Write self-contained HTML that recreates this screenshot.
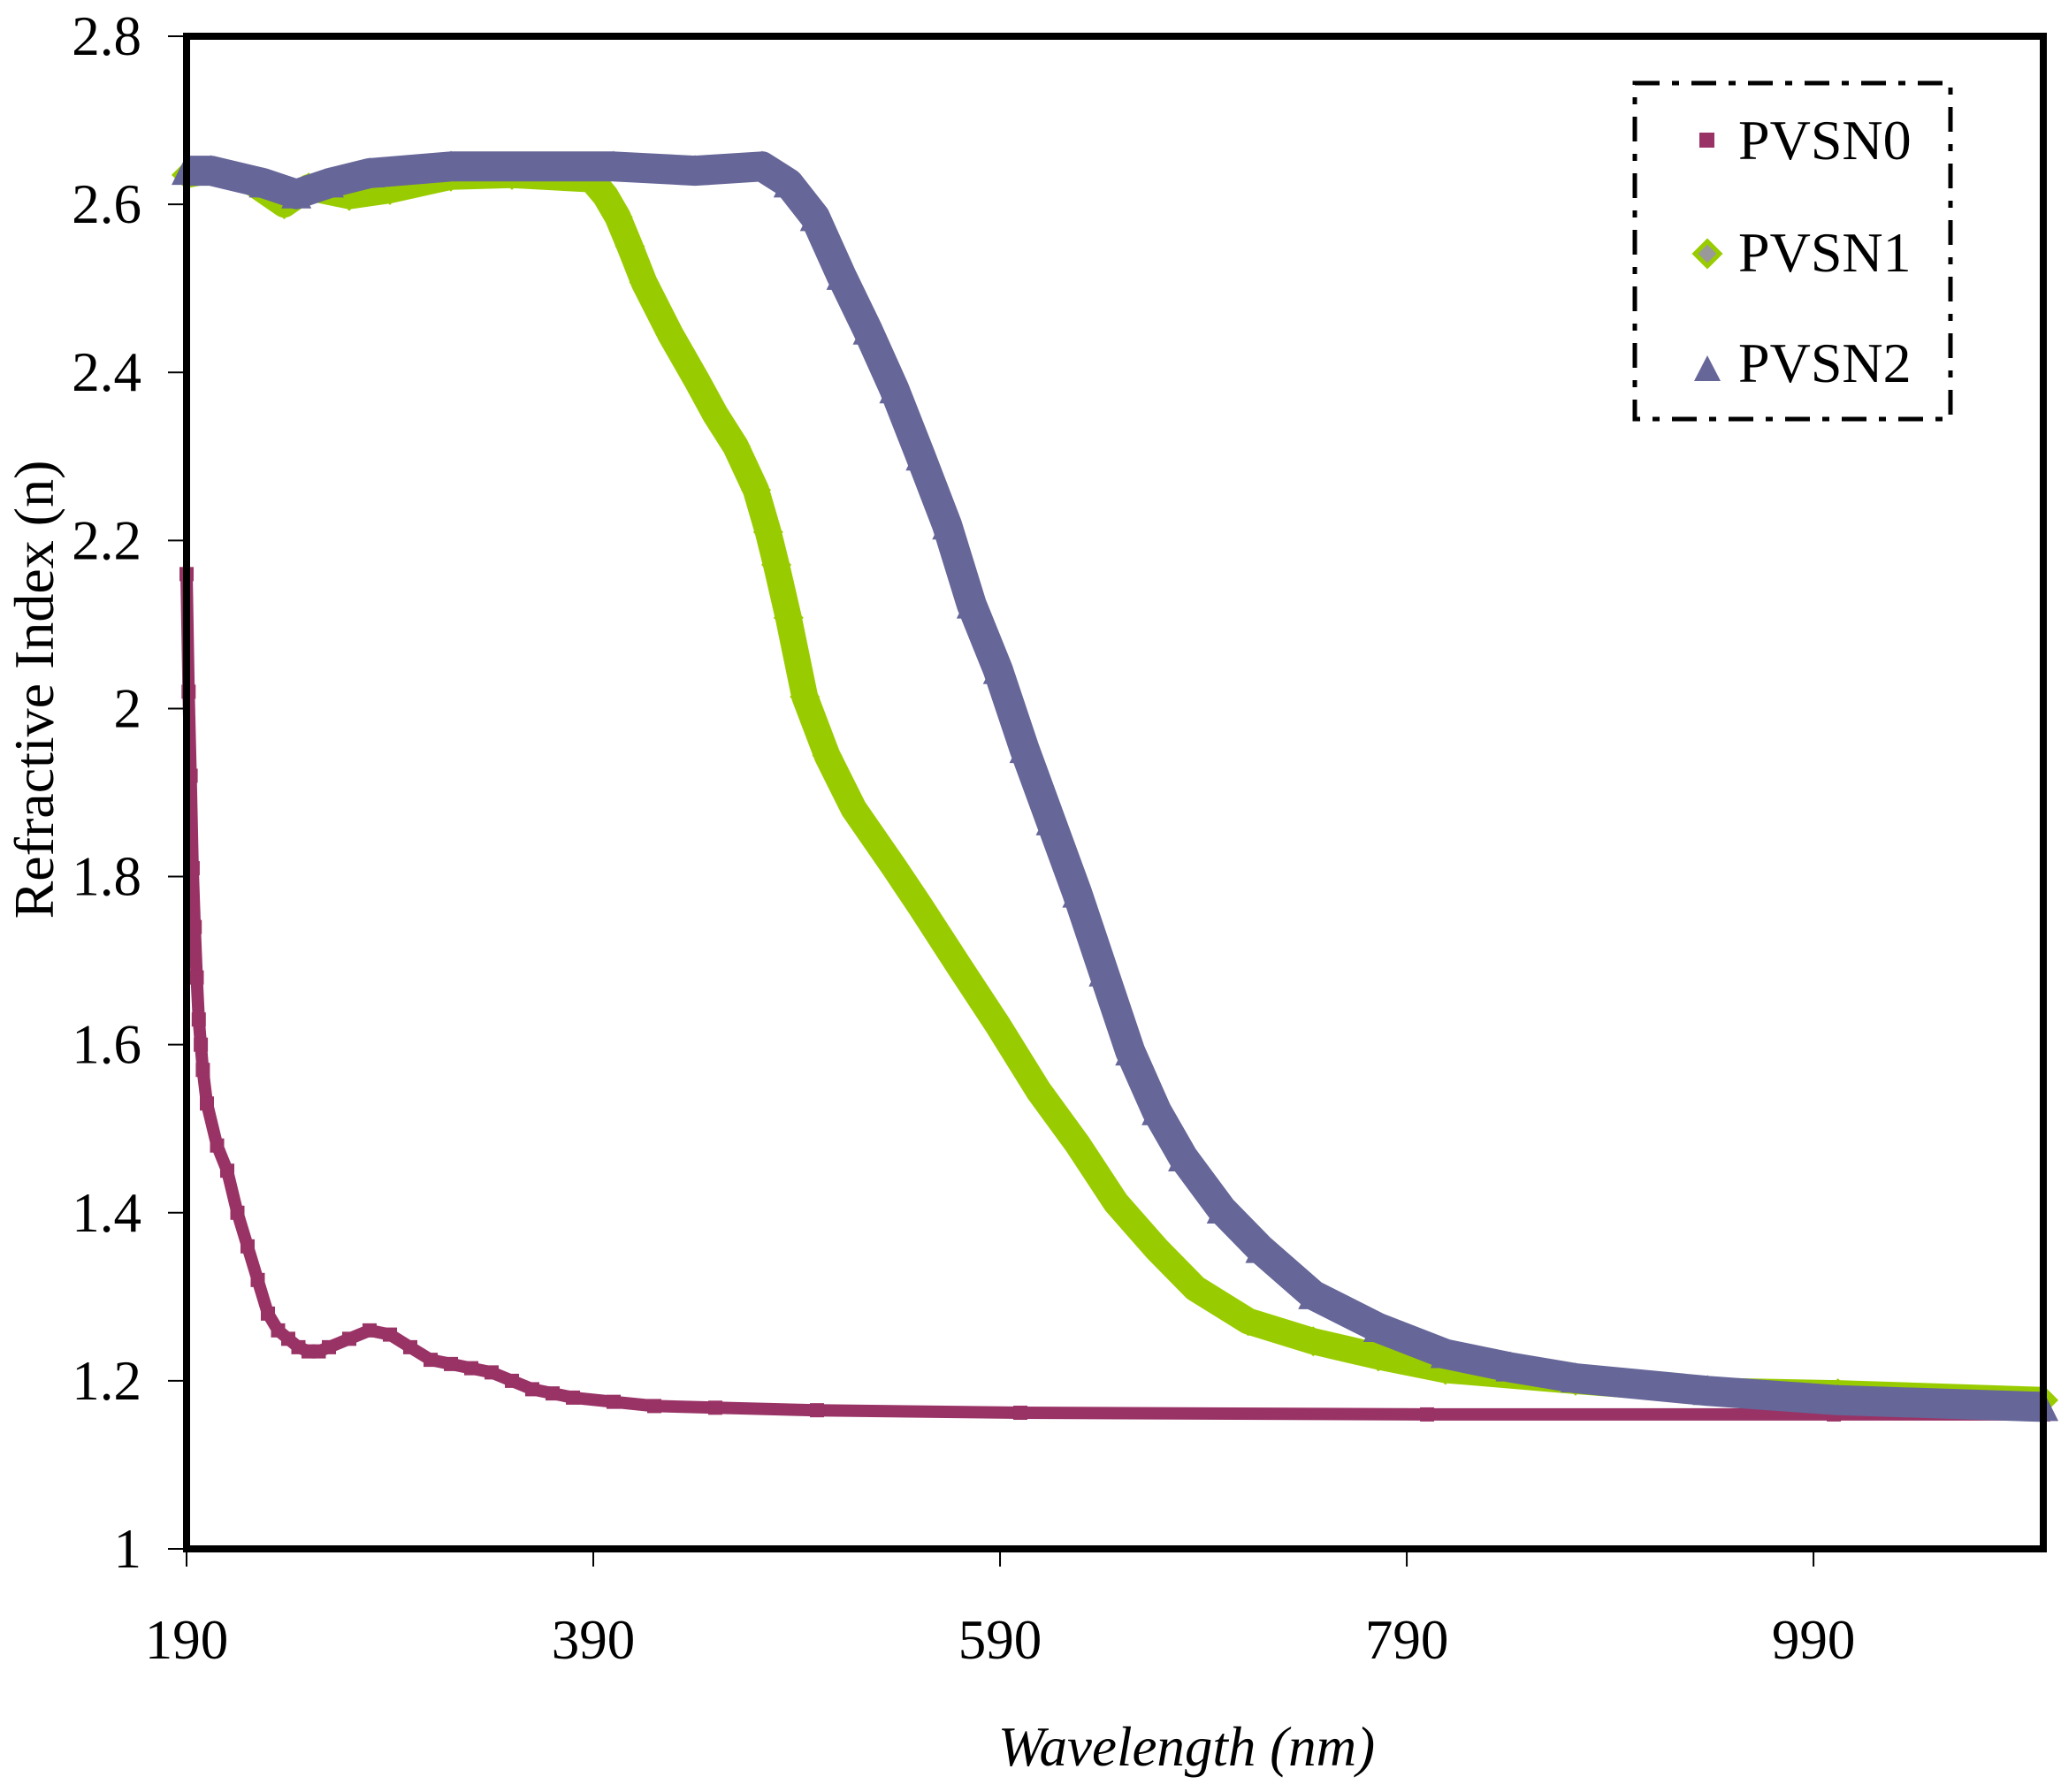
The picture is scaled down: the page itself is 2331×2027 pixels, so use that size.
<!DOCTYPE html>
<html><head><meta charset="utf-8"><style>
html,body{margin:0;padding:0;background:#fff;}
svg{display:block;}
text{font-family:"Liberation Serif",serif;fill:#000;}
</style></head><body>
<svg id="chart" width="2331" height="2027" viewBox="0 0 2331 2027" xmlns="http://www.w3.org/2000/svg">
<g id="series"></g>
<rect x="211" y="41" width="2100" height="1711" fill="none" stroke="#000" stroke-width="8"/>
<g id="axes"></g>
<text transform="translate(60,780) rotate(-90)" text-anchor="middle" font-size="64">Refractive Index (n)</text>
<text x="1342" y="1997" text-anchor="middle" font-size="63" font-style="italic">Wavelength (nm)</text>
<g>
<rect x="1849" y="94" width="357" height="380" fill="#fff" stroke="#000" stroke-width="5" stroke-dasharray="28,14,8,14"/>
<rect x="1922" y="150" width="17" height="17" fill="#993366"/>
<text x="1966" y="180" font-size="64">PVSN0</text>
<polygon points="1931,273 1945,287 1931,301 1917,287" fill="#999" stroke="#99cc00" stroke-width="5"/>
<text x="1966" y="307" font-size="64">PVSN1</text>
<polygon points="1931,402 1946,431 1916,431" fill="#666699"/>
<text x="1966" y="432" font-size="64">PVSN2</text>
</g>
</svg>
<script>
const xTicks = [190, 390, 590, 790, 990];
const yTicks = [1, 1.2, 1.4, 1.6, 1.8, 2, 2.2, 2.4, 2.6, 2.8];
const pvsn0X = [190,191,192,193,194,195,196,197,198,200,205,210,215,220,225,230,235,240,245,250,255,260,270,280,290,300,310,320,330,340,350,360,370,380,400,420,450,500,600,800,1000,1103];
const pvsn0Y = [2.16,2.02,1.92,1.81,1.74,1.68,1.63,1.6,1.57,1.53,1.48,1.45,1.4,1.36,1.32,1.28,1.26,1.25,1.24,1.235,1.235,1.24,1.25,1.26,1.255,1.24,1.225,1.22,1.215,1.21,1.2,1.19,1.185,1.18,1.175,1.17,1.168,1.165,1.162,1.16,1.16,1.16];
const pvsn1X = [190,200,220,238,250,270,290,320,350,389,396,402,408,415,428,441,450,460,470,476,480,486,494,505,518,538,551,570,589,609,628,647,667,686,712,744,776,809,873,938,1002,1103];
const pvsn1Y = [2.635,2.64,2.63,2.6,2.62,2.61,2.617,2.633,2.635,2.63,2.61,2.585,2.55,2.507,2.445,2.39,2.35,2.312,2.26,2.21,2.171,2.108,2.014,1.944,1.881,1.811,1.764,1.693,1.623,1.545,1.482,1.412,1.357,1.31,1.271,1.247,1.229,1.213,1.2,1.188,1.185,1.177];
const pvsn2X = [190,202,228,244,260,280,320,400,440,473,486,499,512,525,538,551,564,576,589,602,615,628,641,654,667,680,699,718,744,776,809,841,873,938,1002,1103];
const pvsn2Y = [2.64,2.64,2.625,2.612,2.625,2.637,2.645,2.645,2.64,2.645,2.625,2.585,2.515,2.45,2.38,2.3,2.218,2.124,2.046,1.952,1.866,1.78,1.686,1.592,1.521,1.466,1.404,1.357,1.302,1.263,1.232,1.216,1.203,1.188,1.177,1.169];

const NS = 'http://www.w3.org/2000/svg';
const X0 = 211, X1 = 2311, Y0 = 1752, Y1 = 41, XMIN = 190, XMAX = 1103, YMIN = 1, YMAX = 2.8;
function xs(v){ return X0 + (v - XMIN) / (XMAX - XMIN) * (X1 - X0); }
function ys(v){ return Y0 - (v - YMIN) / (YMAX - YMIN) * (Y0 - Y1); }
function mk(tag, attrs){ const e = document.createElementNS(NS, tag); for (const k in attrs) e.setAttribute(k, attrs[k]); return e; }

const axes = document.getElementById('axes');
yTicks.forEach(t => {
  const l = mk('line', {x1: 190, x2: X0, y1: ys(t), y2: ys(t), stroke: '#000', 'stroke-width': 2});
  
  
  axes.appendChild(l);
  const tx = mk('text', {x: 160, y: ys(t) + 21, 'text-anchor': 'end', 'font-size': 63});
  tx.textContent = String(t);
  
  
  axes.appendChild(tx);
});
xTicks.forEach(t => {
  const l = mk('line', {x1: xs(t), x2: xs(t), y1: Y0, y2: 1772, stroke: '#000', 'stroke-width': 2});
  
  
  axes.appendChild(l);
  const tx = mk('text', {x: xs(t), y: 1876, 'text-anchor': 'middle', 'font-size': 63});
  tx.textContent = String(t);
  
  
  axes.appendChild(tx);
});

const g = document.getElementById('series');
function drawSeries(xsArr, ysArr, color, width, shape, name){
  const grp = mk('g', {});
  
  
  const pts = xsArr.map((x, i) => xs(x).toFixed(1) + ',' + ys(ysArr[i]).toFixed(1)).join(' ');
  const pl = mk('polyline', {points: pts, fill: 'none', stroke: color, 'stroke-width': width, 'stroke-linejoin': 'round'});
  
  
  grp.appendChild(pl);
  xsArr.forEach((x, i) => {
    const cx = xs(x), cy = ys(ysArr[i]);
    let m;
    if (shape === 'square') m = mk('rect', {x: cx - 8, y: cy - 8, width: 16, height: 16, fill: color});
    else if (shape === 'diamond') m = mk('polygon', {points: `${cx},${cy-17} ${cx+17},${cy} ${cx},${cy+17} ${cx-17},${cy}`, fill: color});
    else m = mk('polygon', {points: `${cx},${cy-18} ${cx+17},${cy+16} ${cx-17},${cy+16}`, fill: color});
    
    
    grp.appendChild(m);
  });
  g.appendChild(grp);
}
drawSeries(pvsn0X, pvsn0Y, '#993366', 14, 'square', 'series-pvsn0');
drawSeries(pvsn1X, pvsn1Y, '#99cc00', 30, 'diamond', 'series-pvsn1');
drawSeries(pvsn2X, pvsn2Y, '#666699', 34, 'triangle', 'series-pvsn2');
</script>
</body></html>
